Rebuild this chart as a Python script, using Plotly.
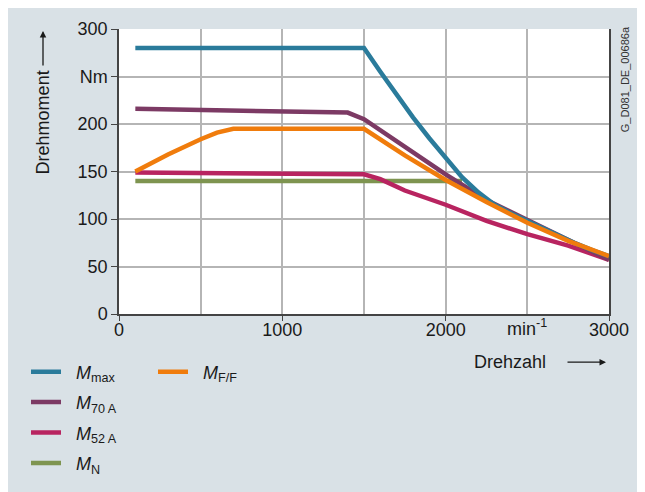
import plotly.graph_objects as go

# torque curves (speed in 1/min, torque in Nm)
n_max = [100, 1500, 1600, 1700, 1800, 1900, 2000, 2100, 2200, 2300, 2400, 2500, 2600, 2700, 2800, 2900, 3000]
m_max = [280, 280, 255, 230, 207, 185, 164, 144, 128, 115, 106, 98, 89, 81, 74, 67, 61]

n_70 = [100, 500, 1000, 1400, 1500, 1750, 2000, 2250, 2500, 2750, 3000]
m_70 = [216, 215, 214, 212, 205, 176, 147, 120, 99, 78, 57]

n_52 = [100, 1000, 1500, 1600, 1750, 2000, 2250, 2500, 2750, 3000]
m_52 = [149, 148, 147, 142, 130, 115, 98, 84, 72, 57]

n_N = [100, 2100]
m_N = [140, 140]

n_ff = [100, 300, 500, 600, 700, 1500, 1750, 2000, 2250, 2500, 2750, 3000]
m_ff = [150, 168, 184, 191, 195, 195, 167, 141, 118, 96, 77, 61]

y_ticks = [0, 50, 100, 150, 200, 250, 300]
y_labels = ["0", "50", "100", "150", "200", "Nm", "300"]
x_ticks = [0, 1000, 2000, 3000]

bg = "#d9e1e6"
font = "Liberation Sans, Arial, sans-serif"
sp = "\u00a0\u00a0"


def px(x):
    # reference pixel -> paper coordinate (plot area 119..609 x 19..315)
    return (x - 119) / 490


def py(y):
    return (315 - y) / 296


fig = go.Figure()

series = [
    (n_max, m_max, sp + "<i>M</i><sub>max</sub>", "#2a7b9b", "legend"),
    (n_70, m_70, sp + "<i>M</i><sub>70 A</sub>", "#7c3a64", "legend"),
    (n_52, m_52, sp + "<i>M</i><sub>52 A</sub>", "#b82460", "legend"),
    (n_N, m_N, sp + "<i>M</i><sub>N</sub>", "#7e9450", "legend"),
    (n_ff, m_ff, sp + "<i>M</i><sub>F/F</sub>", "#f07c0c", "legend2"),
]
# draw order: green and crimson underneath, orange on top
for i in [3, 2, 1, 0, 4]:
    x, y, name, col, leg = series[i]
    fig.add_trace(go.Scatter(x=x, y=y, mode="lines", name=name, legend=leg,
                             legendgroup="g%d" % i, legendrank=i,
                             line=dict(color=col, width=4.5)))

fig.update_layout(
    width=637, height=484,
    margin=dict(l=111, r=36, t=11, b=177),
    paper_bgcolor=bg,
    plot_bgcolor="white",
    font=dict(family=font, size=18, color="#1a1a1a"),
    showlegend=True,
    legend=dict(x=px(26), y=py(356), xanchor="left", yanchor="top",
                bgcolor="rgba(0,0,0,0)", font=dict(size=18), tracegroupgap=4,
                traceorder="grouped", itemwidth=30),
    legend2=dict(x=px(153), y=py(356), xanchor="left", yanchor="top",
                 bgcolor="rgba(0,0,0,0)", font=dict(size=18), itemwidth=30),
    xaxis=dict(range=[0, 3000], tickvals=x_ticks, ticks="outside", ticklen=5,
               tickcolor="#444", showline=True, linecolor="#444", linewidth=1.5,
               showgrid=False, zeroline=False, tickfont=dict(size=18),
               ticklabelstandoff=-6,
               minor=dict(dtick=500, showgrid=True, gridcolor="#b5b5b5", gridwidth=1.5, ticks="")),
    yaxis=dict(range=[0, 300], tickvals=y_ticks, ticktext=y_labels, ticks="outside",
               ticklen=6, tickcolor="#444", showline=True, mirror=True, linecolor="#444",
               linewidth=1.5, showgrid=True, gridcolor="#b5b5b5", gridwidth=1.5,
               zeroline=False, tickfont=dict(size=18)),
)

# unit label on the speed axis
fig.add_annotation(x=2500, xref="x", yref="paper", y=py(329), xanchor="center",
                   yanchor="middle", showarrow=False, text="min<sup>-1</sup>",
                   font=dict(size=18))
# axis titles with arrows
fig.add_annotation(xref="paper", yref="paper", x=px(43), y=py(116), xanchor="center",
                   yanchor="middle", text="Drehmoment", textangle=-90, showarrow=False,
                   font=dict(size=18))
fig.add_annotation(xref="paper", yref="paper", x=px(43), y=py(21),
                   ax=0, ay=36, text="", showarrow=True, arrowhead=2, arrowsize=1,
                   arrowwidth=1.3, arrowcolor="#1a1a1a")
fig.add_annotation(xref="paper", yref="paper", x=px(510), y=py(365), xanchor="center",
                   yanchor="middle", text="Drehzahl", showarrow=False, font=dict(size=18))
fig.add_annotation(xref="paper", yref="paper", x=px(606), y=py(365),
                   ax=-40, ay=0, text="", showarrow=True, arrowhead=2, arrowsize=1,
                   arrowwidth=1.3, arrowcolor="#1a1a1a")
# drawing id
fig.add_annotation(xref="paper", yref="paper", x=px(625), y=py(14), xanchor="center",
                   yanchor="top", text="G_D081_DE_00686a", textangle=-90,
                   showarrow=False, font=dict(size=11, color="#333"))

fig.write_html("out.html")
